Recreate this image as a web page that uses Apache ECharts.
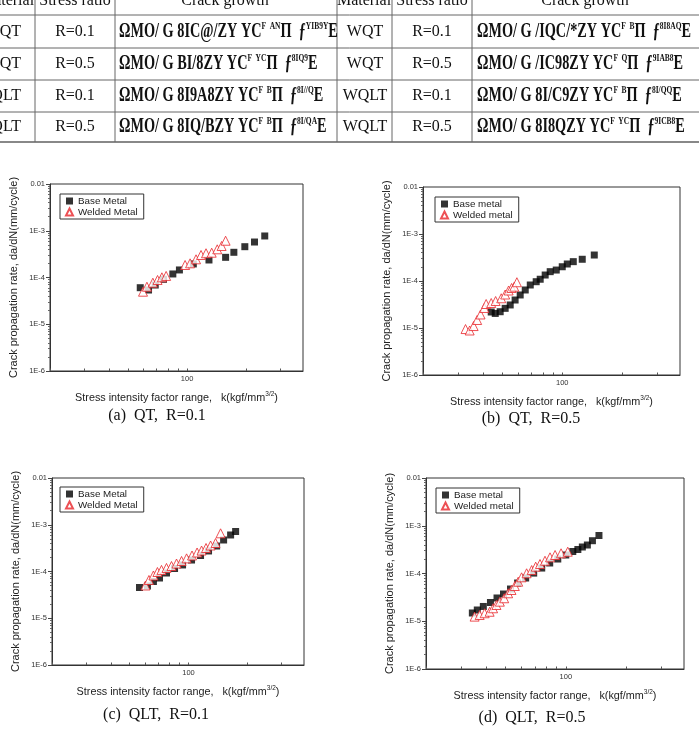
<!DOCTYPE html>
<html>
<head>
<meta charset="utf-8">
<style>
html, body { margin: 0; padding: 0; background: #fff; }
#main { width: 699px; height: 732px; }
</style>
<script src="https://cdn.jsdelivr.net/npm/echarts@6/dist/echarts.min.js"></script>
</head>
<body>
<div id="main"></div>
<script>
// values: K (kgf/mm^3/2) and da/dN (mm/cycle)
const baseA_K = [57.7, 63.6, 68.8, 75.8, 84.6, 91.4, 107.6, 129.3, 157.2, 173.2, 197, 220.7, 248.9]
const baseA_rate = [6.05e-5, 5.4e-5, 6.9e-5, 9.15e-5, 1.19e-4, 1.45e-4, 1.95e-4, 2.37e-4, 2.70e-4, 3.46e-4, 4.56e-4, 5.74e-4, 7.73e-4]
const weldA_K = [59.6, 62.4, 66.9, 70.7, 74.4, 78.2, 97.7, 103.6, 111.1, 117.8, 124.9, 133.5, 142.5, 150, 157.2]
const weldA_rate = [4.97e-5, 6.35e-5, 7.74e-5, 8.85e-5, 1.01e-4, 1.08e-4, 1.85e-4, 2.01e-4, 2.45e-4, 3.03e-4, 3.30e-4, 3.39e-4, 4.01e-4, 4.72e-4, 6.12e-4]

const baseB_K = [44.0, 46.1, 48.8, 51.7, 54.8, 58.0, 61.5, 65.2, 69.1, 74.0, 77.5, 82.1, 87.0, 93.3, 100, 106, 113.6, 126, 144.8]
const baseB_rate = [2.19e-5, 2.04e-5, 2.22e-5, 2.62e-5, 3.09e-5, 3.94e-5, 5.04e-5, 6.44e-5, 8.22e-5, 9.66e-5, 1.09e-4, 1.34e-4, 1.58e-4, 1.71e-4, 2.01e-4, 2.30e-4, 2.58e-4, 2.90e-4, 3.57e-4]
const weldB_K = [32.7, 34.3, 35.9, 37.4, 38.9, 40.6, 41.5, 44.0, 46.3, 49.4, 51.7, 53.8, 55.7, 57.4, 59.2]
const weldB_rate = [9.5e-6, 8.85e-6, 1.10e-5, 1.48e-5, 1.94e-5, 2.67e-5, 3.24e-5, 3.40e-5, 3.75e-5, 4.29e-5, 5.16e-5, 6.28e-5, 7.1e-5, 7.57e-5, 9.42e-5]

const baseC_K = [56.1, 61.6, 66.1, 71.0, 77.1, 84.8, 93.2, 103.6, 115.2, 126.6, 139.2, 151.2, 164.2, 174.2]
const baseC_rate = [4.55e-5, 4.90e-5, 6.11e-5, 7.26e-5, 9.29e-5, 1.16e-4, 1.38e-4, 1.76e-4, 2.20e-4, 2.75e-4, 3.51e-4, 4.72e-4, 6.04e-4, 7.18e-4]
const weldC_K = [60.2, 62.7, 66.1, 69.3, 72.7, 77.1, 81.8, 86.8, 92.1, 97.7, 104.2, 110.6, 116.6, 122.9, 129.7, 137.5, 145.9]
const weldC_rate = [5.02e-5, 6.58e-5, 8.21e-5, 9.75e-5, 1.08e-4, 1.19e-4, 1.31e-4, 1.48e-4, 1.68e-4, 1.91e-4, 2.20e-4, 2.55e-4, 2.81e-4, 3.18e-4, 3.60e-4, 4.07e-4, 6.56e-4]

const baseD_K = [34.1, 36.1, 38.7, 42.0, 45.3, 48.8, 52.9, 57.4, 63.0, 69.1, 75.8, 83.1, 91.2, 100, 108.4, 114.9, 121.0, 128.2, 135.9, 146.5]
const baseD_rate = [1.49e-5, 1.72e-5, 2.04e-5, 2.47e-5, 3.07e-5, 3.72e-5, 4.73e-5, 6.32e-5, 8.05e-5, 1.02e-4, 1.30e-4, 1.66e-4, 2.01e-4, 2.44e-4, 2.89e-4, 3.18e-4, 3.59e-4, 3.95e-4, 4.86e-4, 6.25e-4]
const weldD_K = [35.0, 37.1, 39.3, 41.6, 43.3, 45.0, 46.8, 49.2, 51.5, 53.5, 55.6, 57.8, 60.1, 63.7, 67.5, 70.7, 74.3, 78.7, 83.4, 88.4, 94.7, 102.3]
const weldD_rate = [1.25e-5, 1.35e-5, 1.47e-5, 1.58e-5, 1.87e-5, 2.19e-5, 2.57e-5, 3.03e-5, 3.85e-5, 4.51e-5, 5.47e-5, 6.73e-5, 8.32e-5, 1.01e-4, 1.18e-4, 1.39e-4, 1.58e-4, 1.85e-4, 2.18e-4, 2.44e-4, 2.65e-4, 2.86e-4]

// tick positions
const xTicks = [20, 30, 40, 50, 60, 70, 80, 90, 100, 200, 300]
const xLabels = [100]
const yMinorTicks = [2, 3, 4, 5, 6, 7, 8, 9].flatMap(m => [1e-6, 1e-5, 1e-4, 1e-3].map(d => +(m * d).toPrecision(2)))

// table on top (the formula column is garbled in the source, kept as it shows)
const tableHead = ['Material', 'Stress ratio', 'Crack growth', 'Material', 'Stress ratio', 'Crack growth']
const leftMaterial = ['QT', 'QT', 'QLT', 'QLT']
const rightMaterial = ['WQT', 'WQT', 'WQLT', 'WQLT']
const stressRatio = ['R=0.1', 'R=0.5', 'R=0.1', 'R=0.5']
const leftFormula = [
    ['ΩMO/ G 8IC@/ZY YC', 'F', 'AN', 'YIB9Y'],
    ['ΩMO/ G BI/8ZY YC', 'F', 'YC', '8IQ9'],
    ['ΩMO/ G 8I9A8ZY YC', 'F', 'B', '8I//Q'],
    ['ΩMO/ G 8IQ/BZY YC', 'F', 'B', '8I/QA']
]
const rightFormula = [
    ['ΩMO/ G /IQC/*ZY YC', 'F', 'B', '8I8AQ'],
    ['ΩMO/ G /IC98ZY YC', 'F', 'Q', '9IAB8'],
    ['ΩMO/ G 8I/C9ZY YC', 'F', 'B', '8I/QQ'],
    ['ΩMO/ G 8I8QZY YC', 'F', 'YC', '9ICB8']
]
const captions = ['(a)  QT,  R=0.1', '(b)  QT,  R=0.5', '(c)  QLT,  R=0.1', '(d)  QLT,  R=0.5']

const pairs = (k, r) => k.map((v, i) => [v, r[i]])

// panel layout
const panels = [
    { left: 50, top: 184, width: 253, height: 187, legend: [60, 194], cap: [157, 416], names: ['Base Metal', 'Welded Metal'],
      base: pairs(baseA_K, baseA_rate), weld: pairs(weldA_K, weldA_rate) },
    { left: 423, top: 187, width: 257, height: 188, legend: [435, 197], cap: [531, 419], names: ['Base metal', 'Welded metal'],
      base: pairs(baseB_K, baseB_rate), weld: pairs(weldB_K, weldB_rate) },
    { left: 52, top: 478, width: 252, height: 187, legend: [60, 487], cap: [156, 715], names: ['Base Metal', 'Welded Metal'],
      base: pairs(baseC_K, baseC_rate), weld: pairs(weldC_K, weldC_rate) },
    { left: 426, top: 478, width: 258, height: 191, legend: [436, 488], cap: [532, 718], names: ['Base metal', 'Welded metal'],
      base: pairs(baseD_K, baseD_rate), weld: pairs(weldD_K, weldD_rate) }
]

const sans = 'Liberation Sans'
const serif = 'Liberation Serif'
const axisColor = '#333'

const chart = echarts.init(document.getElementById('main'))

const grid = panels.map(p => ({
    left: p.left, top: p.top, width: p.width, height: p.height,
    show: true, borderColor: axisColor, borderWidth: 1, backgroundColor: 'transparent'
}))

const xAxis = panels.map((p, i) => ({
    type: 'log', logBase: 10, gridIndex: i, min: 20, max: 390,
    name: 'Stress intensity factor range,   k(kgf/mm{s|3/2})',
    nameLocation: 'middle', nameGap: 20,
    nameTextStyle: {
        fontFamily: sans, fontSize: 10.8, color: '#222',
        rich: { s: { fontFamily: sans, fontSize: 6.5, padding: [0, 0, 7, 0] } }
    },
    axisLine: { lineStyle: { color: axisColor } },
    axisTick: { inside: true, length: 2.5, customValues: xTicks, lineStyle: { color: '#555' } },
    axisLabel: { customValues: xLabels, fontFamily: sans, fontSize: 7.5, color: '#333', margin: 4,
        formatter: v => Math.round(v) === 100 ? '100' : '' },
    splitLine: { show: false }
}))

// main y axes (decades) + overlay axes carrying the minor ticks
const yAxis = panels.map((p, i) => ({
    type: 'log', logBase: 10, gridIndex: i, min: 1e-6, max: 0.01,
    name: 'Crack propagation rate, da/dN(mm/cycle)',
    nameLocation: 'middle', nameGap: 31,
    nameTextStyle: { fontFamily: sans, fontSize: 11, color: '#222' },
    axisLine: { lineStyle: { color: axisColor } },
    axisTick: { length: 4, lineStyle: { color: '#444' } },
    axisLabel: { fontFamily: sans, fontSize: 7.5, color: '#333', margin: 5,
        formatter: v => {
            const e = Math.round(Math.log10(v))
            return e === -2 ? '0.01' : '1E' + e
        } },
    splitLine: { show: false }
})).concat(panels.map((p, i) => ({
    type: 'log', logBase: 10, gridIndex: i, min: 1e-6, max: 0.01, position: 'left',
    axisLine: { show: false },
    axisTick: { length: 2, customValues: yMinorTicks, lineStyle: { color: '#666' } },
    axisLabel: { show: false },
    splitLine: { show: false }
})))

const legend = panels.map(p => ({
    left: p.legend[0], top: p.legend[1], orient: 'vertical',
    data: p.names,
    itemWidth: 7, itemHeight: 7, itemGap: 1,
    padding: [2, 6, 2, 5],
    borderColor: '#333', borderWidth: 1,
    textStyle: { fontFamily: sans, fontSize: 9.8, color: '#222' }
}))

const series = []
panels.forEach((p, i) => {
    series.push({
        name: p.names[0], type: 'scatter', xAxisIndex: i, yAxisIndex: i,
        symbol: 'rect', symbolSize: 7,
        itemStyle: { color: '#000' },
        data: p.base
    })
    series.push({
        name: p.names[1], type: 'scatter', xAxisIndex: i, yAxisIndex: i,
        symbol: 'triangle', symbolSize: 9,
        itemStyle: { color: '#fff', borderColor: '#e8262b', borderWidth: 1 },
        data: p.weld
    })
})

// ---- table + captions drawn as graphics ----
const graphic = []
const lineColor = '#666'
const hLines = [15, 48, 80, 112]
hLines.forEach(y => graphic.push({ type: 'line', shape: { x1: 0, y1: y, x2: 699, y2: y }, style: { stroke: lineColor, lineWidth: 1 } }))
graphic.push({ type: 'line', shape: { x1: 0, y1: 142, x2: 699, y2: 142 }, style: { stroke: '#888', lineWidth: 2 } })
;[35, 115, 337, 392, 472].forEach(x => graphic.push({ type: 'line', shape: { x1: x, y1: 0, x2: x, y2: 142 }, style: { stroke: lineColor, lineWidth: 1 } }))

const headX = [7, 75, 225, 364, 432, 585]
tableHead.forEach((t, i) => graphic.push({
    type: 'text', x: headX[i], y: 1,
    style: { text: t, font: '16px ' + serif, fill: '#111', textAlign: 'center', textVerticalAlign: 'middle' }
}))

const rowY = [32, 64, 96, 127]
const formulaText = f => '{m|' + f[0] + '}{s|' + f[1] + '}{m| }{s|' + f[2] + '}{m|Π  ƒ}{s|' + f[3] + '}{m|E}'
const formulaRich = {
    m: { fontFamily: serif, fontWeight: 'bold', fontSize: 21, fill: '#111' },
    s: { fontFamily: serif, fontWeight: 'bold', fontSize: 11, fill: '#111', padding: [0, 0, 12, 0] }
}
rowY.forEach((y, r) => {
    graphic.push({ type: 'text', x: 21, y: y, style: { text: leftMaterial[r], font: '16px ' + serif, fill: '#111', textAlign: 'right', textVerticalAlign: 'middle' } })
    graphic.push({ type: 'text', x: 75, y: y, style: { text: stressRatio[r], font: '16px ' + serif, fill: '#111', textAlign: 'center', textVerticalAlign: 'middle' } })
    graphic.push({ type: 'text', x: 365, y: y, style: { text: rightMaterial[r], font: '16px ' + serif, fill: '#111', textAlign: 'center', textVerticalAlign: 'middle' } })
    graphic.push({ type: 'text', x: 432, y: y, style: { text: stressRatio[r], font: '16px ' + serif, fill: '#111', textAlign: 'center', textVerticalAlign: 'middle' } })
    graphic.push({ type: 'text', x: 119, y: y, scaleX: 0.68, style: { text: formulaText(leftFormula[r]), rich: formulaRich, textAlign: 'left', textVerticalAlign: 'middle' } })
    graphic.push({ type: 'text', x: 477, y: y, scaleX: 0.68, style: { text: formulaText(rightFormula[r]), rich: formulaRich, textAlign: 'left', textVerticalAlign: 'middle' } })
})

panels.forEach((p, i) => graphic.push({
    type: 'text', x: p.cap[0], y: p.cap[1],
    style: { text: captions[i], font: '16px ' + serif, fill: '#111', textAlign: 'center', textVerticalAlign: 'middle' }
}))

chart.setOption({
    backgroundColor: '#fff',
    animation: false,
    grid: grid,
    xAxis: xAxis,
    yAxis: yAxis,
    legend: legend,
    series: series,
    graphic: graphic
})
</script>
</body>
</html>
